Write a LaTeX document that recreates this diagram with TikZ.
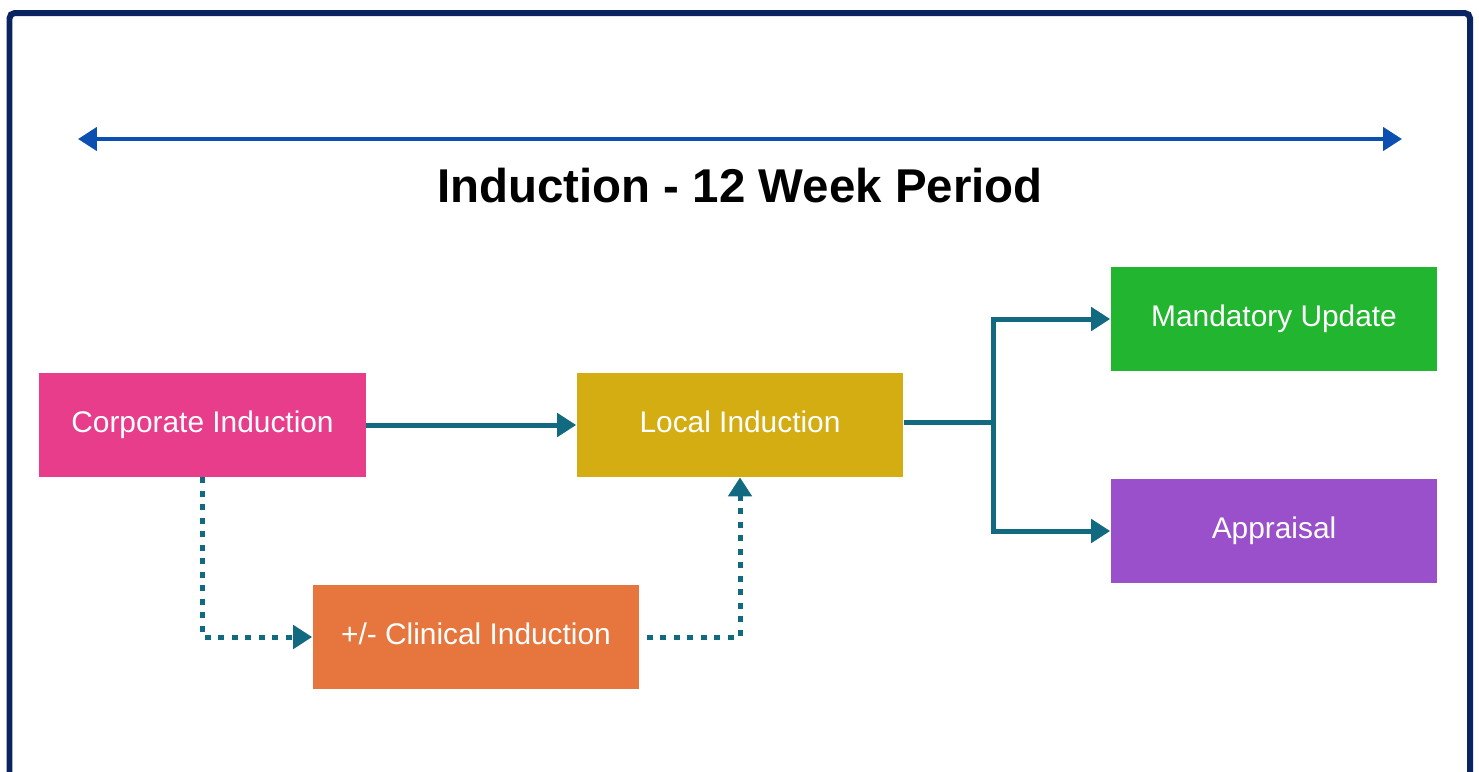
\documentclass[tikz,border=0pt]{standalone}
\usepackage{fontspec}
\setmainfont{Liberation Sans}
\usepackage{tikz}
\usetikzlibrary{arrows.meta}
\definecolor{frameblue}{HTML}{0A2361}
\definecolor{lineblue}{HTML}{0B4FB0}
\definecolor{flowteal}{HTML}{126A80}
\definecolor{corppink}{HTML}{E83D8B}
\definecolor{localgold}{HTML}{D4AD12}
\definecolor{clinorange}{HTML}{E6763E}
\definecolor{mandgreen}{HTML}{22B52F}
\definecolor{apprpurple}{HTML}{9A4FCB}

\begin{document}
\begin{tikzpicture}[x=0.02cm,y=-0.02cm,
		stage/.style={minimum width=6.54cm,minimum height=2.08cm,inner sep=0pt,
			text=white,text height=0.9em,text depth=0.06em,
			font=\fontsize{17}{20}\selectfont},
		flow/.style={draw=flowteal,line width=0.1cm,
			-{Triangle[length=0.38cm,width=0.46cm]}},
		dotflow/.style={flow,dash pattern=on 0.12cm off 0.15cm},
		timeline/.style={draw=lineblue,line width=0.09cm,
			{Triangle[length=0.38cm,width=0.46cm]}-{Triangle[length=0.38cm,width=0.46cm]}}
		]
		\useasboundingbox (0,0) rectangle (1479,771);
		%%%%%%%%%%%%%%%
		\draw[frameblue,line width=0.12cm,rounded corners=3] (9.5,13) rectangle (1470,820);
		%%%%%%%%%%%%%%%
		\coordinate (tl) at (78,139);
		\coordinate (tr) at (1402,139);
		\draw[timeline] (tl) -- (tr);
		\node[font=\fontsize{27}{32}\selectfont\bfseries] (title) at (740,186) {Induction - 12 Week Period};
		%%%%%%%%%%%%%%%
		\node[stage,fill=corppink] (corp) at (202.5,425) {Corporate Induction};
		\node[stage,fill=localgold] (local) at (740,425) {Local Induction};
		\node[stage,fill=clinorange] (clin) at (476,637) {+/- Clinical Induction};
		\node[stage,fill=mandgreen] (mand) at (1274,319) {Mandatory Update};
		\node[stage,fill=apprpurple] (appr) at (1274,531) {Appraisal};
		%%%%%%%%%%%%%%%
		\draw[flow] (corp) -- (local);
		\coordinate (fork) at (993,422);
		\draw[flowteal,line width=0.1cm] (local.east |- fork) -- (fork);
		\draw[flow] (fork) |- (mand);
		\draw[flow] (fork) |- (appr);
		%%%%%%%%%%%%%%%
		\draw[dotflow] (corp.south) |- (clin);
		\draw[dotflow,shorten <=4] (clin.east) -| (local.south);
\end{tikzpicture}
\end{document}
